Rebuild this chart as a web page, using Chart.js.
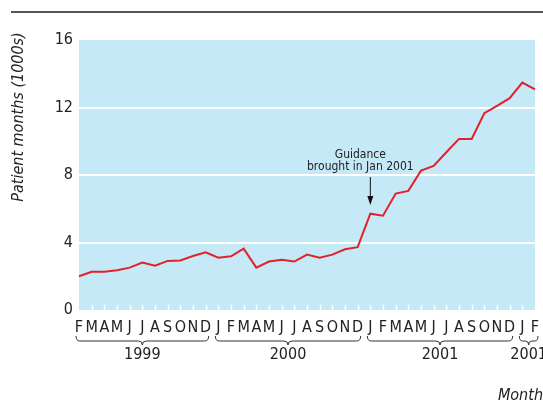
<!DOCTYPE html>
<html><head><meta charset="utf-8">
<script src="https://cdn.jsdelivr.net/npm/chart.js@4/dist/chart.umd.min.js"></script>
<style>html,body{margin:0;padding:0;background:#fff;overflow:hidden}</style>
</head><body>
<canvas id="c" width="543" height="403"></canvas>
<script>
const monthLabels = ["F","M","A","M","J","J","A","S","O","N","D",
  "J","F","M","A","M","J","J","A","S","O","N","D",
  "J","F","M","A","M","J","J","A","S","O","N","D",
  "J","F"];
const patientMonths = [2.0,2.27,2.27,2.35,2.51,2.81,2.63,2.91,2.94,3.2,3.42,
  3.1,3.18,3.64,2.51,2.87,2.98,2.87,3.28,3.1,3.28,3.6,3.72,
  5.71,5.59,6.9,7.06,8.26,8.54,9.35,10.14,10.14,11.66,12.1,12.55,
  13.48,13.08];
const yearLabels = ["1999","2000","2001","2001"];
const yearStart = [0,11,23,35];
const yearEnd = [10,22,34,36];
const yTicks = [0,4,8,12,16];
const noteIndex = 23;
const noteLines = ["Guidance","brought in Jan 2001"];
const yTitle = "Patient months (1000s)";
const xTitle = "Month";

const FONT = "'Liberation Sans Narrow','DejaVu Sans Condensed','Liberation Sans',sans-serif";
const TXT = "#222";

const decor = {
  id: "decor",
  beforeDraw(chart) {
    const {ctx, chartArea: a} = chart;
    ctx.save();
    ctx.fillStyle = "#c6e9f8";
    ctx.fillRect(a.left, a.top, a.right - a.left, a.bottom - a.top);
    ctx.strokeStyle = "#555";
    ctx.lineWidth = 2;
    ctx.beginPath(); ctx.moveTo(11, 12); ctx.lineTo(543, 12); ctx.stroke();
    ctx.restore();
  },
  afterDatasetsDraw(chart) {
    const {ctx, chartArea: a, scales: {x, y}} = chart;
    ctx.save();
    ctx.strokeStyle = "#fff";
    ctx.lineWidth = 1.5;
    for (let i = 1; i < monthLabels.length - 1; i++) {
      const px = Math.round(x.getPixelForValue(i)) + 0.5;
      ctx.beginPath(); ctx.moveTo(px, a.bottom); ctx.lineTo(px, a.bottom - 5); ctx.stroke();
    }
    ctx.strokeStyle = "#333";
    ctx.lineWidth = 1;
    ctx.fillStyle = TXT;
    ctx.font = "16px " + FONT;
    ctx.textAlign = "center";
    ctx.textBaseline = "middle";
    const yt = 336, yb = 341, tip = 345;
    for (let k = 0; k < yearLabels.length; k++) {
      const x1 = x.getPixelForValue(yearStart[k]) - 3;
      const x2 = x.getPixelForValue(yearEnd[k]) + 3;
      const m = (x1 + x2) / 2;
      const r = Math.min(4, (x2 - x1) / 6);
      ctx.beginPath();
      ctx.moveTo(x1, yt);
      ctx.quadraticCurveTo(x1, yb, x1 + r, yb);
      ctx.lineTo(m - r, yb);
      ctx.quadraticCurveTo(m, yb, m, tip);
      ctx.quadraticCurveTo(m, yb, m + r, yb);
      ctx.lineTo(x2 - r, yb);
      ctx.quadraticCurveTo(x2, yb, x2, yt);
      ctx.stroke();
      ctx.fillText(yearLabels[k], m, 355);
    }
    const px = x.getPixelForValue(noteIndex);
    ctx.font = "12px " + FONT;
    ctx.fillStyle = TXT;
    ctx.fillText(noteLines[0], px - 10, 155);
    ctx.fillText(noteLines[1], px - 10, 167);
    ctx.strokeStyle = "#111";
    ctx.lineWidth = 1;
    ctx.beginPath(); ctx.moveTo(px, 177); ctx.lineTo(px, 203); ctx.stroke();
    ctx.fillStyle = "#111";
    ctx.beginPath(); ctx.moveTo(px - 3, 196); ctx.lineTo(px + 3, 196); ctx.lineTo(px, 205); ctx.closePath(); ctx.fill();
    ctx.fillStyle = TXT;
    ctx.font = "italic 16px " + FONT;
    ctx.translate(19, 117);
    ctx.rotate(-Math.PI / 2);
    ctx.fillText(yTitle, 0, 0);
    ctx.setTransform(1, 0, 0, 1, 0, 0);
    ctx.textAlign = "right";
    ctx.fillText(xTitle, 543, 396);
    ctx.restore();
  }
};

new Chart(document.getElementById("c"), {
  type: "line",
  data: {
    labels: monthLabels,
    datasets: [{
      data: patientMonths,
      borderColor: "#e3212b",
      borderWidth: 2,
      pointRadius: 0,
      tension: 0,
      fill: false
    }]
  },
  options: {
    responsive: false,
    animation: false,
    devicePixelRatio: 1,
    layout: {padding: {left: 0, right: 8, top: 40, bottom: 0}},
    plugins: {legend: {display: false}, tooltip: {enabled: false}},
    scales: {
      x: {
        offset: false,
        grid: {display: false, drawTicks: false},
        border: {display: false},
        ticks: {autoSkip: false, maxRotation: 0, minRotation: 0, padding: 8,
          color: TXT, font: {family: FONT, size: 16}},
        afterFit(s) { s.height = 93; s.paddingLeft = 0; s.paddingRight = 0; }
      },
      y: {
        min: 0, max: 16,
        afterBuildTicks(s) { s.ticks = yTicks.map(v => ({value: v})); },
        grid: {
          drawTicks: false,
          lineWidth: 2,
          color: c => (c.tick && (c.tick.value === 0 || c.tick.value === 16)) ? "rgba(0,0,0,0)" : "#ffffff"
        },
        border: {display: false},
        ticks: {padding: 6, color: TXT, font: {family: FONT, size: 16}},
        afterFit(s) { s.width = 79; s.paddingTop = 0; s.paddingBottom = 0; }
      }
    }
  },
  plugins: [decor]
});
</script>
</body></html>
